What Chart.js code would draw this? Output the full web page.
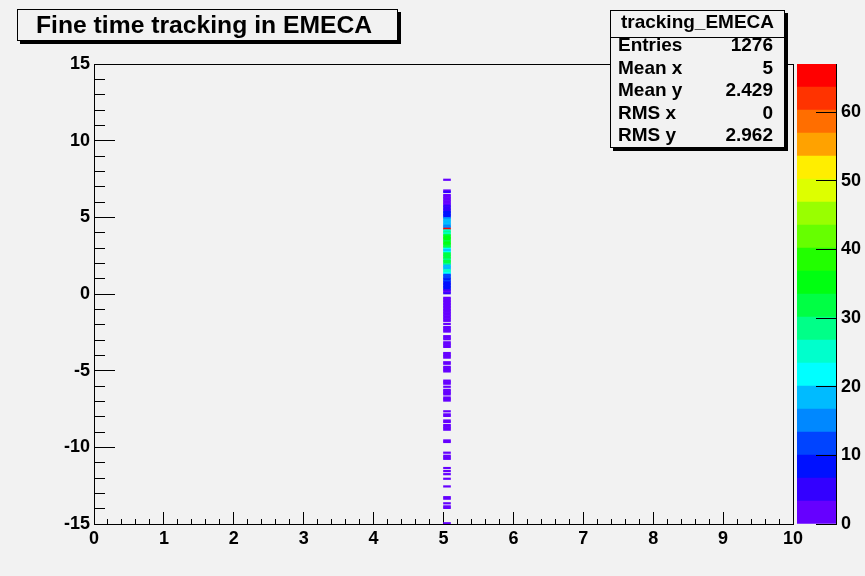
<!DOCTYPE html>
<html>
<head>
<meta charset="utf-8">
<script src="https://cdn.jsdelivr.net/npm/chart.js@4/dist/chart.umd.min.js"></script>
<style>
  html, body { margin: 0; padding: 0; background: #f2f2f2; }
  #wrap { position: relative; width: 865px; height: 576px; overflow: hidden;
          font-family: "Liberation Sans", Arial, Helvetica, sans-serif; font-weight: bold; color: #000; }
  canvas { position: absolute; }
  #main { left: 0; top: 0; }
  #pal { left: 790px; top: 0; }
  .pave { position: absolute; background: #f2f2f2; border: 1px solid #000; box-shadow: 3px 3px 0 #000; }
  #title { left: 17px; top: 9px; width: 381px; height: 32px; font-size: 24.7px; line-height: 30px;
           padding-left: 18px; box-sizing: border-box; white-space: nowrap; }
  #stats { left: 610px; top: 10px; width: 175px; height: 138px; box-sizing: border-box; font-size: 19px; }
  #stats .hd { position: absolute; left: 0; right: 0; top: 0; height: 26px; border-bottom: 1px solid #000;
               text-align: center; line-height: 22px; }
  #stats .row { position: absolute; left: 7px; right: 11px; height: 22px; line-height: 22px; }
  #stats .row span:last-child { position: absolute; right: 0; }
</style>
</head>
<body>
<div id="wrap">
  <canvas id="main" width="865" height="576"></canvas>
  <canvas id="pal" width="75" height="576"></canvas>
  <div id="title" class="pave">Fine time tracking in EMECA</div>
  <div id="stats" class="pave">
    <div class="hd">tracking_EMECA</div>
    <div class="row" style="top:23px"><span>Entries</span><span>1276</span></div>
    <div class="row" style="top:45.5px"><span>Mean x</span><span>5</span></div>
    <div class="row" style="top:68px"><span>Mean y</span><span>2.429</span></div>
    <div class="row" style="top:90.5px"><span>RMS x</span><span>0</span></div>
    <div class="row" style="top:113px"><span>RMS y</span><span>2.962</span></div>
  </div>
</div>
<script>
// Filled x bin (all entries fall in the bin 5.0-5.1)
const xBin = [5.0, 5.1];

// Lower edges of the filled y bins (bin width 0.1) and their contents
const yBinLow = [
  7.4,
  6.7, 6.6,
  6.4, 6.3, 6.2, 6.1, 6.0, 5.9, 5.8,
  5.7, 5.6, 5.5, 5.4, 5.3, 5.2, 5.1, 5.0,
  4.9,
  4.8, 4.7, 4.6, 4.5,
  4.4, 4.3,
  4.2,
  4.1, 4.0, 3.9,
  3.8, 3.7, 3.6, 3.5, 3.4, 3.3, 3.2, 3.1, 3.0,
  2.9, 2.8, 2.7,
  2.6, 2.5, 2.4, 2.3, 2.2, 2.1, 2.0, 1.9,
  1.8, 1.7, 1.6,
  1.5, 1.4, 1.3,
  1.2, 1.1, 1.0, 0.9, 0.8, 0.7, 0.6, 0.5, 0.4, 0.3,
  0.2, 0.1, 0.0,
  -0.3, -0.4, -0.5, -0.6, -0.7, -0.8, -0.9, -1.0, -1.1, -1.2, -1.3, -1.4, -1.5, -1.6, -1.7, -1.8,
  -2.0,
  -2.2, -2.3, -2.4, -2.5,
  -2.8, -2.9, -3.0,
  -3.2, -3.3, -3.4, -3.5,
  -3.9, -4.0, -4.1, -4.2,
  -4.5, -4.6,
  -4.8, -4.9, -5.0, -5.1,
  -5.7, -5.8, -5.9,
  -6.1,
  -6.3, -6.4, -6.5, -6.6,
  -6.8, -6.9, -7.0,
  -7.7,
  -7.9, -8.0,
  -8.3, -8.4,
  -8.6, -8.7, -8.8, -8.9,
  -9.6, -9.7,
  -10.4,
  -10.6, -10.7, -10.8,
  -11.4, -11.6, -11.8,
  -12.1,
  -12.6,
  -13.3, -13.4,
  -13.7,
  -13.9, -14.0,
  -15.0
];
const binCounts = [
  1,
  3, 4,
  2, 2, 2, 3, 2, 2, 2,
  4, 5, 5, 6, 7, 8, 9, 10,
  15,
  18, 17, 20, 18,
  14, 15,
  67,
  25, 27, 24,
  32, 34, 35, 34, 31, 34, 35, 33, 31,
  21, 18, 22,
  31, 32, 32, 31, 30, 33, 31, 29,
  19, 17, 20,
  25, 24, 21,
  12, 11, 13, 10, 11, 8, 9, 7, 8, 7,
  5, 3, 4,
  2, 1, 2, 2, 1, 1, 2, 3, 1, 2, 1, 1, 2, 2, 2, 1,
  1,
  1, 2, 1, 1,
  1, 2, 1,
  1, 1, 1, 2,
  2, 1, 1, 2,
  1, 1,
  1, 2, 1, 1,
  1, 2, 1,
  1,
  1, 1, 1, 1,
  1, 2, 1,
  1,
  2, 1,
  1, 1,
  1, 1, 1, 1,
  1, 1,
  1,
  1, 2, 1,
  1, 1, 1,
  1,
  1,
  1, 1,
  1,
  1, 2,
  1
];

// Colour scale range and its 20 contour colours, low to high
const zMax = 67;
const paletteColors = [
  '#6600ff', '#3300ff', '#0011ff', '#0044ff', '#0088ff',
  '#00bbff', '#00ffff', '#00ffcc', '#00ff88', '#00ff44',
  '#00ff11', '#22ff00', '#66ff00', '#99ff00', '#ddff00',
  '#ffee00', '#ffa200', '#ff6e00', '#ff3300', '#ff0000'
];

const FONT = { family: '"Liberation Sans", Arial, Helvetica, sans-serif', size: 18, weight: 'bold' };
const isWhole = v => Math.abs(v - Math.round(v)) < 1e-6;
const colourFor = n => paletteColors[Math.min(paletteColors.length - 1, Math.floor(n / zMax * paletteColors.length))];

const cells = yBinLow.map(y => ({ y: Math.round((y + 0.05) * 100) / 100, x: xBin }));

new Chart(document.getElementById('main'), {
  type: 'bar',
  data: {
    datasets: [{
      data: cells,
      backgroundColor: binCounts.map(colourFor),
      borderWidth: 0,
      barPercentage: 1,
      categoryPercentage: 1
    }]
  },
  options: {
    indexAxis: 'y',
    responsive: false,
    animation: false,
    layout: { padding: { left: 0, top: 64, right: 72, bottom: 0 } },
    plugins: { legend: { display: false }, tooltip: { enabled: false } },
    scales: {
      x: {
        type: 'linear', position: 'bottom', min: 0, max: 10, offset: false,
        ticks: {
          stepSize: 0.2, maxTicksLimit: 100, autoSkip: false, maxRotation: 0, includeBounds: false,
          color: '#000', font: FONT, padding: 16,
          callback: v => isWhole(v) ? String(Math.round(v)) : ''
        },
        grid: {
          offset: false, drawOnChartArea: false, tickLength: -12, tickColor: '#000', tickWidth: 1,
          tickBorderDash: ctx => (ctx.tick && isWhole(ctx.tick.value)) ? [] : [6, 100]
        },
        border: { display: true, color: '#000', width: 1 },
        afterFit: s => { s.height = 52; }
      },
      y: {
        type: 'linear', position: 'left', min: -15, max: 15, offset: false,
        ticks: {
          stepSize: 1, maxTicksLimit: 100, autoSkip: false, includeBounds: false,
          color: '#000', font: FONT, padding: 25,
          callback: v => (Math.round(v) % 5 === 0) ? String(Math.round(v)) : ''
        },
        grid: {
          offset: false, drawOnChartArea: false, tickLength: -21, tickColor: '#000', tickWidth: 1,
          tickBorderDash: ctx => (ctx.tick && Math.round(ctx.tick.value) % 5 === 0) ? [] : [0, 10, 11, 100]
        },
        border: { display: true, color: '#000', width: 1 },
        afterFit: s => { s.width = 94; }
      },
      xTop: {
        type: 'linear', position: 'top', min: 0, max: 10,
        ticks: { display: false }, grid: { display: false },
        border: { display: true, color: '#000', width: 1 },
        afterFit: s => { s.height = 0; }
      },
      yRight: {
        type: 'linear', position: 'right', min: -15, max: 15,
        ticks: { display: false }, grid: { display: false },
        border: { display: true, color: '#000', width: 1 },
        afterFit: s => { s.width = 0; }
      }
    }
  }
});

// Colour palette (z axis); its ticks and edge sit on top of the colour boxes
new Chart(document.getElementById('pal'), {
  type: 'bar',
  data: {
    labels: ['z'],
    datasets: paletteColors.map(c => ({
      data: [zMax / paletteColors.length],
      backgroundColor: c,
      borderWidth: 0,
      barPercentage: 1,
      categoryPercentage: 1
    }))
  },
  options: {
    responsive: false,
    animation: false,
    layout: { padding: { left: 7, top: 64, right: 0, bottom: 52 } },
    plugins: { legend: { display: false }, tooltip: { enabled: false } },
    scales: {
      x: { display: false, stacked: true },
      y: {
        stacked: true, position: 'right', min: 0, max: zMax,
        ticks: { stepSize: 10, includeBounds: false, color: '#000', font: FONT, padding: 25, z: 2 },
        grid: { drawOnChartArea: false, tickLength: -20, tickColor: '#000', tickWidth: 1, z: 1 },
        border: { display: true, color: '#000', width: 1, z: 1 },
        afterFit: s => { s.width = 29; }
      }
    }
  }
});
</script>
</body>
</html>
